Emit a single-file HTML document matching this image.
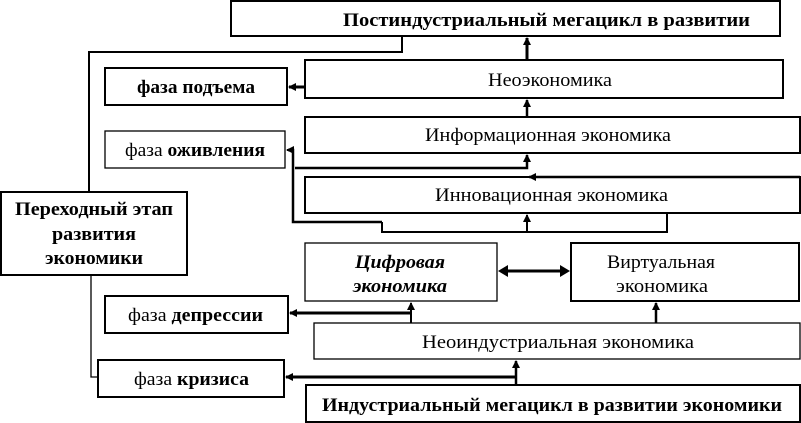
<!DOCTYPE html>
<html><head><meta charset="utf-8"><style>
html,body{margin:0;padding:0;background:#fff;}
svg{display:block;}
text{font-family:"Liberation Serif",serif;font-size:19px;fill:#000;}
.b{font-weight:bold;}
</style></head><body>
<svg width="801" height="423" viewBox="0 0 801 423" xmlns="http://www.w3.org/2000/svg">
<defs>
<marker id="a" markerWidth="8" markerHeight="8" refX="7" refY="4" orient="auto" markerUnits="userSpaceOnUse"><path d="M0,0 L8,4 L0,8 z" fill="#000"/></marker>
</defs>
<g fill="#fff" stroke="#000" stroke-width="2">
<rect x="231" y="1" width="549" height="35"/>
<rect x="105" y="68" width="182" height="37"/>
<rect x="305" y="60" width="478" height="38"/>
<rect x="105" y="131" width="180" height="37" stroke-width="1.3"/>
<rect x="305" y="117" width="495" height="36"/>
<rect x="305" y="177" width="495" height="36"/>
<rect x="1" y="192" width="186" height="83"/>
<rect x="305" y="243" width="192" height="58" stroke-width="1.3"/>
<rect x="571" y="243" width="228" height="58"/>
<rect x="105" y="296" width="183" height="37"/>
<rect x="314" y="323" width="486" height="36" stroke-width="1.3"/>
<rect x="98" y="360" width="186" height="37"/>
<rect x="306" y="385" width="494" height="37"/>
</g>
<g fill="none" stroke="#000" stroke-width="2">
<polyline points="89,192 89,52 402,52 402,36"/>
<polyline points="91,275 91,377 98,377" stroke-width="1.3"/>
<line x1="527" y1="60" x2="527" y2="38" marker-end="url(#a)" stroke-width="3"/>
<line x1="305" y1="87" x2="289" y2="87" marker-end="url(#a)" stroke-width="3"/>
<line x1="527" y1="117" x2="527" y2="100" marker-end="url(#a)" stroke-width="2.5"/>
<polyline points="295,168 527,168 527,155" marker-end="url(#a)" stroke-width="2.5"/>
<line x1="800" y1="177" x2="529" y2="177" marker-end="url(#a)" stroke-width="2.5"/>
<polyline points="382,222 382,232 667,232 667,213" stroke-width="2"/>
<polyline points="382,222 293,222 293,150 288,150" stroke-width="2.5"/>
<line x1="290" y1="150" x2="287" y2="150" marker-end="url(#a)"/>
<line x1="527" y1="232" x2="527" y2="215" marker-end="url(#a)"/>
<line x1="507" y1="271" x2="561" y2="271" stroke-width="3"/>
<path d="M498,271 L508,265 L508,277 z M570,271 L560,265 L560,277 z" fill="#000" stroke="none"/>
<line x1="411" y1="323" x2="411" y2="303" marker-end="url(#a)"/>
<line x1="411" y1="313" x2="290" y2="313" marker-end="url(#a)" stroke-width="3"/>
<line x1="656" y1="323" x2="656" y2="303" marker-end="url(#a)" stroke-width="2.5"/>
<line x1="516" y1="385" x2="516" y2="361" marker-end="url(#a)" stroke-width="2.5"/>
<line x1="516" y1="377" x2="286" y2="377" marker-end="url(#a)" stroke-width="3"/>
</g>
<g lengthAdjust="spacingAndGlyphs">
<text x="343" y="26" class="b" textLength="407" lengthAdjust="spacingAndGlyphs">Постиндустриальный мегацикл в развитии</text>
<text x="137" y="93" class="b" textLength="118" lengthAdjust="spacingAndGlyphs">фаза подъема</text>
<text x="488" y="86" textLength="124" lengthAdjust="spacingAndGlyphs">Неоэкономика</text>
<text x="125" y="156" textLength="140" lengthAdjust="spacingAndGlyphs">фаза <tspan class="b">оживления</tspan></text>
<text x="425" y="141" textLength="246" lengthAdjust="spacingAndGlyphs">Информационная экономика</text>
<text x="435" y="201" textLength="233" lengthAdjust="spacingAndGlyphs">Инновационная экономика</text>
<text x="15" y="215" class="b" textLength="158" lengthAdjust="spacingAndGlyphs">Переходный этап</text>
<text x="52" y="240" class="b" textLength="84" lengthAdjust="spacingAndGlyphs">развития</text>
<text x="45" y="264" class="b" textLength="98" lengthAdjust="spacingAndGlyphs">экономики</text>
<text x="355" y="268" class="b" font-style="italic" textLength="90" lengthAdjust="spacingAndGlyphs">Цифровая</text>
<text x="353" y="292" class="b" font-style="italic" textLength="94" lengthAdjust="spacingAndGlyphs">экономика</text>
<text x="607" y="268" textLength="108" lengthAdjust="spacingAndGlyphs">Виртуальная</text>
<text x="616" y="292" textLength="92" lengthAdjust="spacingAndGlyphs">экономика</text>
<text x="128" y="321" textLength="135" lengthAdjust="spacingAndGlyphs">фаза <tspan class="b">депрессии</tspan></text>
<text x="422" y="348" textLength="272" lengthAdjust="spacingAndGlyphs">Неоиндустриальная  экономика</text>
<text x="134" y="385" textLength="115" lengthAdjust="spacingAndGlyphs">фаза <tspan class="b">кризиса</tspan></text>
<text x="322" y="411" class="b" textLength="460" lengthAdjust="spacingAndGlyphs">Индустриальный мегацикл в развитии экономики</text>
</g>
</svg>
</body></html>
